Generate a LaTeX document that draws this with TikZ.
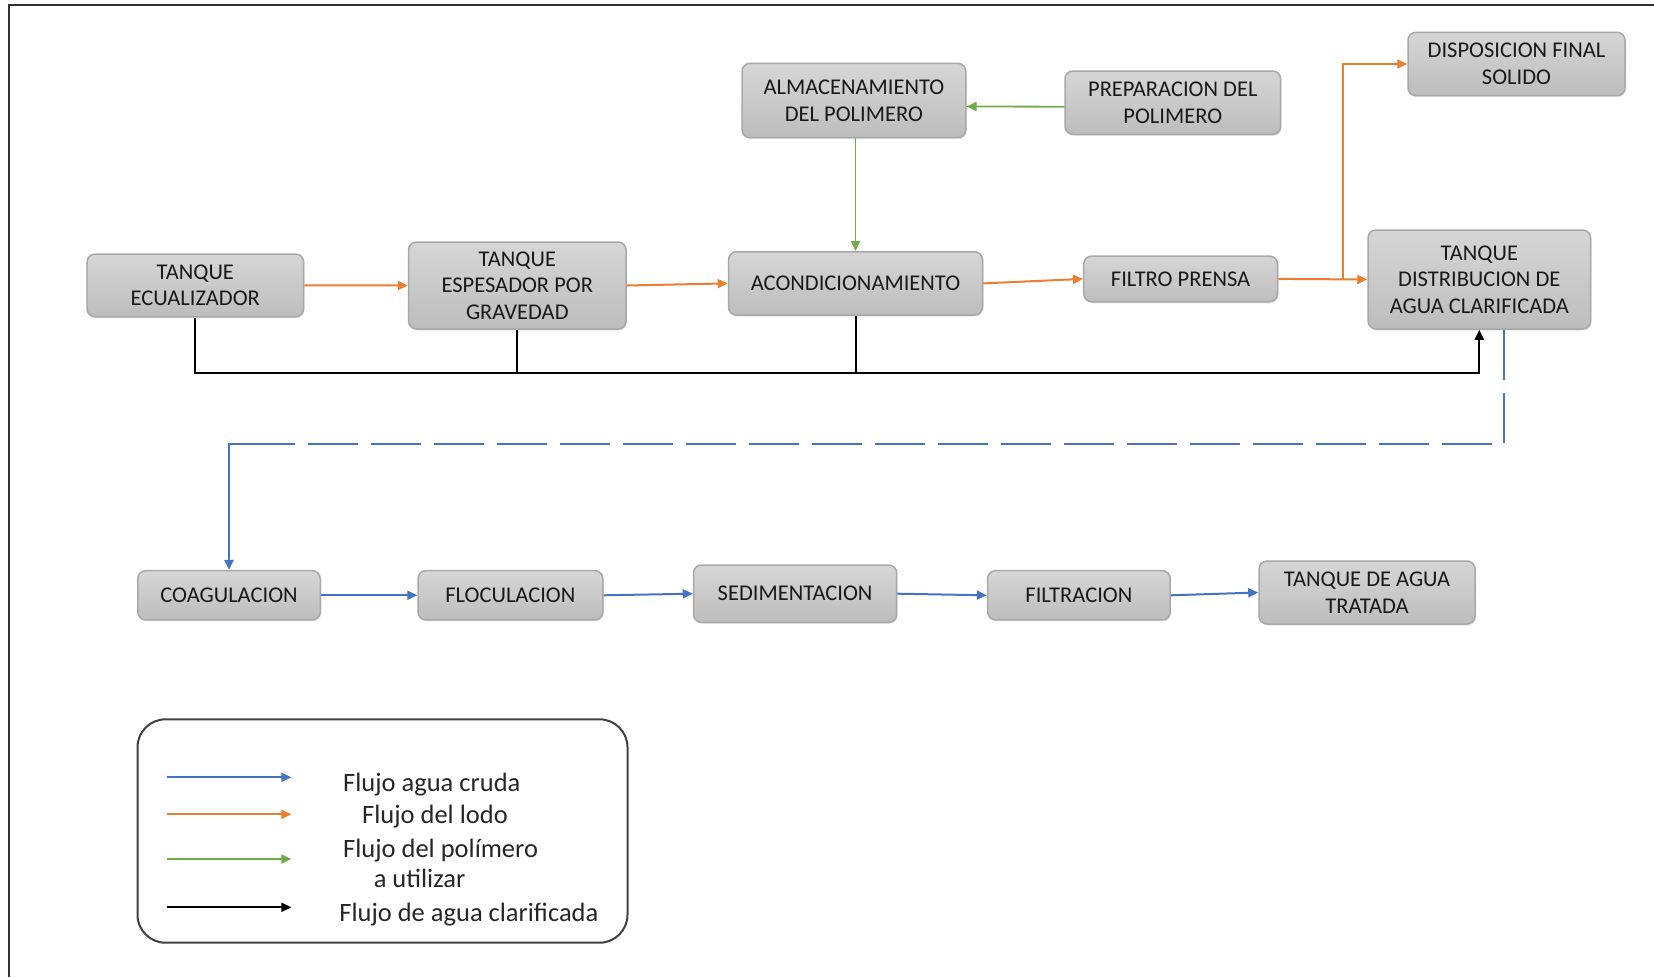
\documentclass[tikz,border=0pt]{standalone}
\usepackage{fontspec}
\setmainfont{Carlito}
\usetikzlibrary{arrows.meta,shadows}
\definecolor{cblue}{HTML}{4472C4}
\definecolor{corange}{HTML}{ED7D31}
\definecolor{cgreen}{HTML}{70AD47}
\definecolor{cedge}{HTML}{A8A8A8}
\definecolor{ctop}{HTML}{D6D6D6}
\definecolor{cbot}{HTML}{BDBDBD}
\definecolor{cframe}{HTML}{333333}
\begin{document}
\begin{tikzpicture}[x=1pt,y=-1pt,
  proc/.style={draw=cedge, line width=1.5pt, rounded corners=8pt, top color=ctop, bottom color=cbot,
    align=center, inner sep=0pt, text=black!90, font=\fontsize{22.5}{26.7}\selectfont,
    drop shadow={shadow xshift=1pt, shadow yshift=-1.5pt, opacity=0.2}},
  tip/.style={-{Triangle[length=10pt,width=9pt]}},
  org/.style={tip, draw=corange, line width=2pt},
  grn/.style={tip, draw=cgreen, line width=1.8pt},
  blu/.style={tip, draw=cblue, line width=2pt},
  blk/.style={draw=black, line width=2pt},
  bluedash/.style={draw=cblue, line width=2.6pt, dash pattern=on 50pt off 13pt},
  legtext/.style={anchor=base west, inner sep=0pt, text=black!85, font=\fontsize{26.5}{31}\selectfont}
]
\useasboundingbox (0,0) rectangle (1654,977);
% frame
\draw[cframe, line width=2pt] (9,977) -- (9,5) -- (1654,5);

% upper nodes
\node[proc, minimum width=216.6pt, minimum height=62.7pt] (ecu) at (195.3,285.4) {TANQUE\\ECUALIZADOR};
\node[proc, minimum width=217.5pt, minimum height=87pt] (esp) at (517.3,285.5) {TANQUE\\ESPESADOR POR\\GRAVEDAD};
\node[proc, minimum width=254pt, minimum height=63.3pt] (acond) at (855.5,283.4) {ACONDICIONAMIENTO};
\node[proc, minimum width=193.8pt, minimum height=45.7pt] (filtro) at (1180.6,278.9) {FILTRO PRENSA};
\node[proc, minimum width=222.6pt, minimum height=99pt] (tdist) at (1479.3,279.5) {TANQUE\\DISTRIBUCION DE\\AGUA CLARIFICADA};
\node[proc, minimum width=223.7pt, minimum height=74.4pt] (alm) at (853.9,100.5) {ALMACENAMIENTO\\DEL POLIMERO};
\node[proc, minimum width=215.6pt, minimum height=63.3pt] (prep) at (1172.8,102.7) {PREPARACION DEL\\POLIMERO};
\node[proc, minimum width=217pt, minimum height=63.4pt] (disp) at (1516.5,64) {DISPOSICION FINAL\\SOLIDO};

% lower nodes
\node[proc, minimum width=182.5pt, minimum height=49.3pt] (coag) at (229,595.3) {COAGULACION};
\node[proc, minimum width=184.8pt, minimum height=49.3pt] (floc) at (510.4,595.3) {FLOCULACION};
\node[proc, minimum width=203.2pt, minimum height=57.3pt] (sed) at (795.1,593.7) {SEDIMENTACION};
\node[proc, minimum width=182.6pt, minimum height=49.3pt] (filtr) at (1078.9,595.3) {FILTRACION};
\node[proc, minimum width=216pt, minimum height=63pt] (ttrat) at (1367,592.5) {TANQUE DE AGUA\\TRATADA};

% orange sludge flow
\draw[org] (ecu.east) -- (esp.west);
\draw[org] (esp.east) -- (acond.west);
\draw[org] (acond.east) -- (filtro.west);
\draw[org] (filtro.east) -- (tdist.west);
\path (filtro.east) -- (tdist.west) coordinate[pos=0.724] (br);
\draw[org] (br) -- (br |- disp.west) -- (disp.west);

% green polymer flow
\draw[grn] ([yshift=-4pt]prep.west) -- ([yshift=-6pt]alm.east);
\draw[grn] (alm.south -| acond.north) -- (acond.north);

% black clarified water
\coordinate (bus) at (0,372.7);
\draw[blk, tip] (ecu.south) -- (ecu.south |- bus) -- (bus -| tdist.south) -- (tdist.south);
\draw[blk] (esp.south) -- (esp.south |- bus);
\draw[blk] (acond.south) -- (acond.south |- bus);

% blue raw water
\coordinate (bs) at ([xshift=24.7pt]tdist.south);
\coordinate (hl) at (278,444);
\draw[bluedash] (bs) -- (bs |- hl) -- (hl);
\draw[blu, line width=2.2pt] (hl) -- (coag.north |- hl) -- (coag.north);
\draw[blu] (coag.east) -- (floc.west);
\draw[blu] (floc.east) -- (sed.west);
\draw[blu] (sed.east) -- (filtr.west);
\draw[blu] (filtr.east) -- (ttrat.west);

% legend
\node[draw=black!75, line width=2pt, rounded corners=28pt, minimum width=490pt, minimum height=223.4pt] (leg) at (382.5,831) {};
\coordinate (l1a) at (167,777.3); \coordinate (l1b) at (291.4,777.3);
\coordinate (l2a) at (167,814.3); \coordinate (l2b) at (291.4,814.3);
\coordinate (l3a) at (167,859);   \coordinate (l3b) at (291.4,859);
\coordinate (l4a) at (167,907.3); \coordinate (l4b) at (291.4,907.3);
\draw[blu] (l1a) -- (l1b);
\draw[org] (l2a) -- (l2b);
\draw[grn] (l3a) -- (l3b);
\draw[blk, tip] (l4a) -- (l4b);
\node[legtext] (t1) at (343,791.7) {Flujo agua cruda};
\node[legtext] (t2) at (362,823.3) {Flujo del lodo};
\node[legtext] (t3) at (343,857.3) {Flujo del polímero};
\node[legtext] (t3b) at (373.6,887.3) {a utilizar};
\node[legtext] (t4) at (339.2,921.7) {Flujo de agua clarificada};
\end{tikzpicture}
\end{document}
